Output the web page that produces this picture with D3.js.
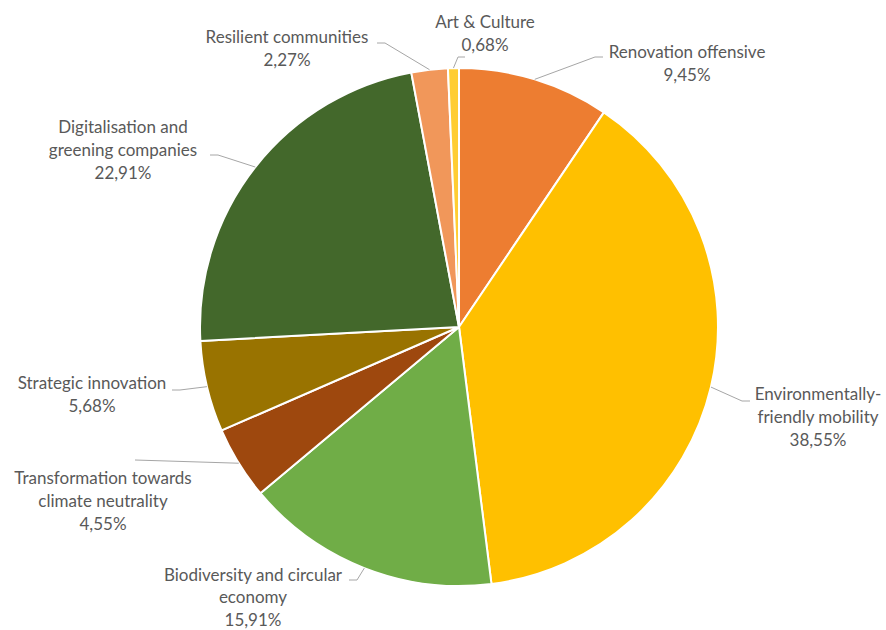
<!DOCTYPE html>
<html lang="en">
<head>
<meta charset="UTF-8">
<title>Pie</title>
<script src="https://cdn.jsdelivr.net/npm/d3@7"></script>
<style>
    body { margin: 0; background: #fff; }
    .lbl {
        font-family: Lato, "Open Sans", sans-serif;
        font-size: 17px;
        fill: #595959;
        text-anchor: middle;
    }
    .leader {
        fill: none;
        stroke: #a6a6a6;
        stroke-width: 1;
    }
</style>
</head>
<body>
<div id="chart"></div>
<script>
    const width = 886;
    const height = 630;

    // data
    const categories = [
        "Renovation offensive",
        "Environmentally-friendly mobility",
        "Biodiversity and circular economy",
        "Transformation towards climate neutrality",
        "Strategic innovation",
        "Digitalisation and greening companies",
        "Resilient communities",
        "Art & Culture"
    ];
    const values = [9.45, 38.55, 15.91, 4.55, 5.68, 22.91, 2.27, 0.68];
    const colors = ["#ed7d31", "#ffc000", "#70ad47", "#9e480e", "#997300", "#43682b", "#f1975a", "#ffcd33"];

    // label layout: text lines, text centre x, first line centre y, leader elbow
    const labelLines = [
        ["Renovation offensive", "9,45%"],
        ["Environmentally-", "friendly mobility", "38,55%"],
        ["Biodiversity and circular", "economy", "15,91%"],
        ["Transformation towards", "climate neutrality", "4,55%"],
        ["Strategic innovation", "5,68%"],
        ["Digitalisation and", "greening companies", "22,91%"],
        ["Resilient communities", "2,27%"],
        ["Art & Culture", "0,68%"]
    ];
    const labelPos = [
        {x: 687, y: 52, elbow: [595, 57], end: [603, 57]},
        {x: 818, y: 394, elbow: [742, 401], end: [750, 401]},
        {x: 253, y: 575, elbow: [357, 580], end: [349, 580]},
        {x: 103, y: 478, elbow: [135, 460], end: [135, 460]},
        {x: 92, y: 383, elbow: [180, 390], end: [172, 390]},
        {x: 123, y: 127, elbow: [218, 155], end: [210, 155]},
        {x: 287, y: 37, elbow: [385, 43], end: [377, 43]},
        {x: 485, y: 22, elbow: [458, 57], end: [465, 57]}
    ];
    const lineHeight = 23;

    const cx = 459, cy = 327, radius = 259;

    const svg = d3.select("#chart").append("svg")
        .attr("width", width).attr("height", height);

    const pie = d3.pie().sort(null).value(d => d);
    const arcs = pie(values);

    const arc = d3.arc().innerRadius(0).outerRadius(radius);
    const edge = d3.arc().innerRadius(radius).outerRadius(radius);

    const g = svg.append("g").attr("transform", `translate(${cx},${cy})`);

    g.selectAll("path.slice")
        .data(arcs)
        .enter()
        .append("path")
        .attr("class", "slice")
        .attr("d", arc)
        .attr("fill", (d, i) => colors[i])
        .attr("stroke", "#fff")
        .attr("stroke-width", 2)
        .attr("stroke-linejoin", "round");

    // leader lines
    svg.selectAll("polyline.leader")
        .data(arcs)
        .enter()
        .append("polyline")
        .attr("class", "leader")
        .attr("points", (d, i) => {
            const c = edge.centroid(d);
            const p = labelPos[i];
            return [[c[0] + cx, c[1] + cy], p.elbow, p.end].map(q => q.join(",")).join(" ");
        });

    // labels
    const labels = svg.selectAll("text.lbl")
        .data(categories)
        .enter()
        .append("text")
        .attr("class", "lbl")
        .attr("x", (d, i) => labelPos[i].x)
        .attr("y", (d, i) => labelPos[i].y);

    labels.each(function(d, i) {
        const t = d3.select(this);
        const n = labelLines[i].length;
        labelLines[i].forEach((line, j) => {
            t.append("tspan")
                .attr("x", labelPos[i].x)
                .attr("dy", j === 0 ? "0.35em" : (i === 2 ? 22.5 : lineHeight))
                .text(line);
        });
    });
</script>
</body>
</html>
